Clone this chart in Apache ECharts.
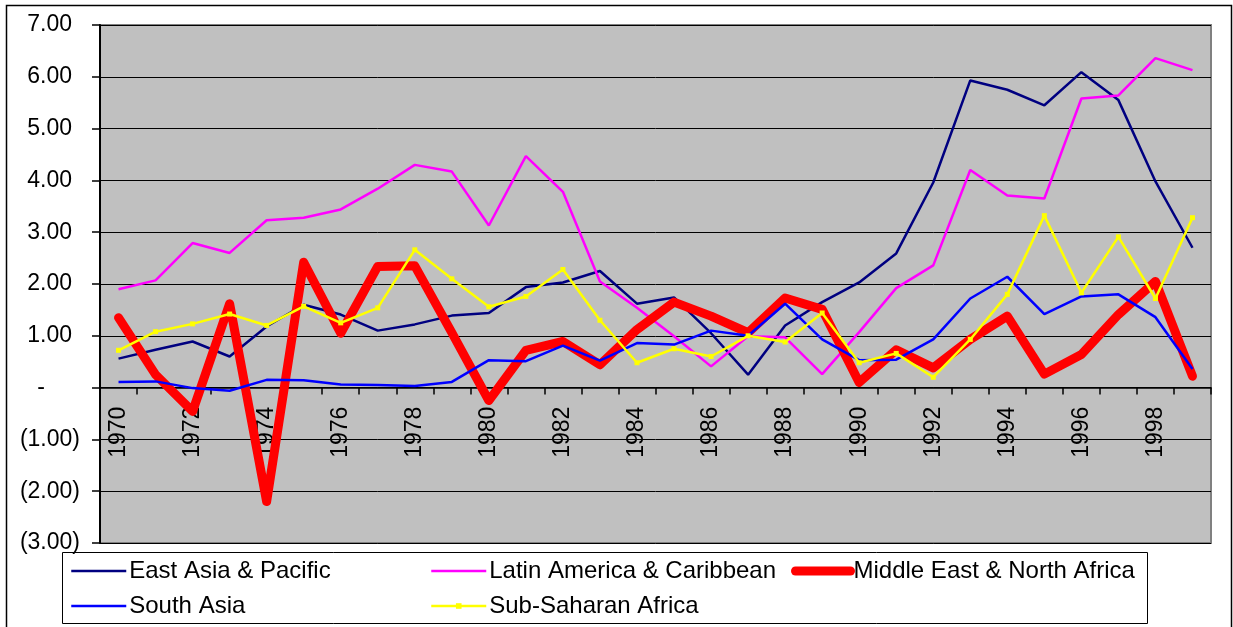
<!DOCTYPE html>
<html>
<head>
<meta charset="utf-8">
<script src="https://cdn.jsdelivr.net/npm/echarts@6/dist/echarts.min.js"></script>
<style>
html, body { margin: 0; padding: 0; background: #fff; }
#chart { width: 1233px; height: 627px; }
</style>
</head>
<body>
<div id="chart"></div>
<script>
var years = ['1970','1971','1972','1973','1974','1975','1976','1977','1978','1979',
             '1980','1981','1982','1983','1984','1985','1986','1987','1988','1989',
             '1990','1991','1992','1993','1994','1995','1996','1997','1998','1999'];

var eastAsia = [0.56,0.73,0.89,0.60,1.18,1.60,1.41,1.10,1.22,1.39,
                1.44,1.94,2.03,2.25,1.62,1.74,1.05,0.25,1.20,1.65,
                2.03,2.59,3.96,5.93,5.75,5.45,6.09,5.55,3.98,2.70];
var latinAmerica = [1.90,2.07,2.79,2.60,3.23,3.28,3.44,3.84,4.30,4.17,
                    3.13,4.47,3.78,2.05,1.54,0.99,0.41,0.99,0.97,0.26,
                    1.07,1.92,2.36,4.20,3.71,3.65,5.58,5.64,6.36,6.13];
var middleEast = [1.35,0.25,-0.46,1.62,-2.20,2.42,1.05,2.34,2.35,1.06,
                  -0.25,0.72,0.89,0.44,1.12,1.65,1.38,1.06,1.73,1.51,
                  0.10,0.73,0.38,0.93,1.38,0.26,0.64,1.41,2.05,0.22];
var southAsia = [0.11,0.12,-0.01,-0.06,0.15,0.14,0.06,0.05,0.03,0.11,
                 0.53,0.51,0.81,0.52,0.86,0.83,1.10,1.00,1.62,0.93,
                 0.53,0.54,0.93,1.72,2.14,1.42,1.76,1.80,1.36,0.36];
var subSaharan = [0.72,1.08,1.23,1.42,1.20,1.57,1.25,1.54,2.66,2.10,
                  1.56,1.76,2.28,1.30,0.48,0.75,0.60,1.00,0.88,1.44,
                  0.48,0.66,0.20,0.93,1.80,3.32,1.83,2.91,1.72,3.28];

var FONT = '"Liberation Sans", Arial, sans-serif';
var Y_MIN = -3, Y_MAX = 7;
var GRID_TOP = 25, GRID_BOTTOM = 84, H = 627;

var chartDom = document.getElementById('chart');
var myChart = echarts.init(chartDom);

function yFmt(v) {
    if (v === 0) return '{z|-}';
    if (v < 0) return '{n|(' + (-v).toFixed(2) + ')}';
    return '{p|' + v.toFixed(2) + '}';
}

function legendAt(name, left, top, lineW, showDot) {
    return {
        data: [name],
        left: left,
        top: top,
        padding: 0,
        itemWidth: 55,
        itemHeight: showDot ? 7 : 12,
        itemGap: 0,
        selectedMode: false,
        itemStyle: { opacity: showDot ? 1 : 0 },
        lineStyle: { width: lineW },
        textStyle: { fontFamily: FONT, fontSize: 24, color: '#000', lineHeight: 26, padding: [0, 0, 0, -2] }
    };
}

// the category axis crosses at zero, 3/10 of the plot height above the bottom
var plotH = H - GRID_TOP - GRID_BOTTOM;
var zeroOffset = plotH * (0 - Y_MIN) / (Y_MAX - Y_MIN);

var option = {
    animation: false,
    backgroundColor: '#fff',
    grid: {
        left: 100, right: 22, top: GRID_TOP, bottom: GRID_BOTTOM,
        show: true,
        backgroundColor: '#C0C0C0',
        borderColor: '#808080',
        borderWidth: 2
    },
    graphic: [
        { type: 'rect', shape: { x: 6.5, y: 5.5, width: 1225, height: 640 },
          style: { fill: null, stroke: '#000', lineWidth: 1.5 }, silent: true, z: -1 },
        { type: 'rect', shape: { x: 62.5, y: 552.5, width: 1085, height: 71 },
          style: { fill: '#fff', stroke: '#000', lineWidth: 1 }, silent: true, z: 0 }
    ],
    legend: [
        legendAt('East Asia & Pacific', 70, 558, 2.5, false),
        legendAt('South Asia', 70, 593, 2.5, false),
        legendAt('Latin America & Caribbean', 430, 558, 2.5, false),
        legendAt('Sub-Saharan Africa', 430, 593, 2.5, true),
        legendAt('Middle East & North Africa', 791, 558, 9, false)
    ],
    xAxis: {
        type: 'category',
        data: years,
        boundaryGap: true,
        position: 'bottom',
        offset: -zeroOffset,
        axisLine: { onZero: false, lineStyle: { color: '#000', width: 1.5 } },
        axisTick: { show: true, interval: 0, length: 7, lineStyle: { color: '#000', width: 1.5 } },
        axisLabel: {
            interval: 1,
            rotate: 90,
            margin: 19,
            fontFamily: FONT,
            fontSize: 23,
            color: '#000'
        },
        splitLine: { show: false }
    },
    yAxis: {
        type: 'value',
        min: Y_MIN,
        max: Y_MAX,
        interval: 1,
        axisLine: { show: true, lineStyle: { color: '#000', width: 2 } },
        axisTick: { show: true, length: 8, lineStyle: { color: '#000', width: 1.5 } },
        axisLabel: {
            margin: 20,
            formatter: yFmt,
            fontFamily: FONT,
            fontSize: 23,
            color: '#000',
            rich: {
                p: { fontFamily: FONT, fontSize: 23, color: '#000', padding: [0, 8, 0, 0] },
                z: { fontFamily: FONT, fontSize: 23, color: '#000', padding: [0, 35, 0, 0] },
                n: { fontFamily: FONT, fontSize: 23, color: '#000' }
            }
        },
        splitLine: { show: true, lineStyle: { color: '#000', width: 1 } }
    },
    series: [
        {
            name: 'East Asia & Pacific',
            type: 'line',
            data: eastAsia,
            symbol: 'none',
            lineStyle: { color: '#000080', width: 2.5 },
            itemStyle: { color: '#000080' }
        },
        {
            name: 'Latin America & Caribbean',
            type: 'line',
            data: latinAmerica,
            symbol: 'none',
            lineStyle: { color: '#FF00FF', width: 2.5 },
            itemStyle: { color: '#FF00FF' }
        },
        {
            name: 'Middle East & North Africa',
            type: 'line',
            data: middleEast,
            symbol: 'none',
            lineStyle: { color: '#FF0000', width: 9, cap: 'round', join: 'round' },
            itemStyle: { color: '#FF0000' }
        },
        {
            name: 'South Asia',
            type: 'line',
            data: southAsia,
            symbol: 'none',
            lineStyle: { color: '#0000FF', width: 2.5 },
            itemStyle: { color: '#0000FF' }
        },
        {
            name: 'Sub-Saharan Africa',
            type: 'line',
            data: subSaharan,
            symbol: 'rect',
            symbolSize: 5,
            showSymbol: true,
            lineStyle: { color: '#FFFF00', width: 2.5 },
            itemStyle: { color: '#FFFF00' }
        }
    ]
};

option && myChart.setOption(option);
</script>
</body>
</html>
